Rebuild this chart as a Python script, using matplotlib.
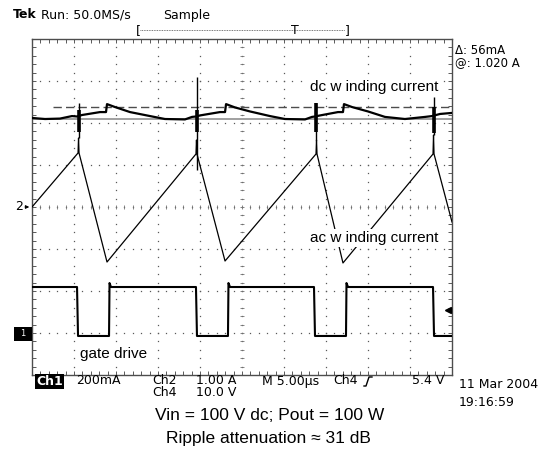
import numpy as np
import matplotlib
matplotlib.use('Agg')
import matplotlib.pyplot as plt
from matplotlib.lines import Line2D
from matplotlib.patches import Rectangle

W, H = 546, 459

# channel settings shown on the scope
ch1_scale, ch1_ground = 0.2, -3.0    # A/div, ground in div
ch2_scale, ch2_ground = 1.0, 0.0     # A/div
ch4_scale, ch4_ground = 10.0, -3.0   # V/div
trig_level = 5.4                     # V, ch4
cursor_at = 1.020                    # A
cursor_delta = 0.056                 # A

# Ch1: dc winding current (time in us, current in A)
dc_t = [0.0, 1.55, 3.33, 4.76, 5.36, 5.95, 8.10, 8.81, 8.93, 9.88, 11.67, 14.05, 15.83,
        18.21, 19.05, 19.52, 20.0, 22.38, 22.98, 23.10, 24.17, 25.95, 28.33, 30.12, 32.5,
        33.33, 33.69, 34.29, 36.43, 37.02, 37.14, 38.10, 40.0, 42.02, 44.4, 46.79, 47.62,
        48.57, 50.0]
dc_i = [1.024, 1.019, 1.021, 1.033, 1.031, 1.038, 1.052, 1.052, 1.090, 1.076, 1.052, 1.033,
        1.019, 1.017, 1.029, 1.031, 1.036, 1.052, 1.052, 1.090, 1.074, 1.055, 1.033, 1.019,
        1.017, 1.029, 1.031, 1.036, 1.052, 1.052, 1.090, 1.076, 1.055, 1.029, 1.019, 1.029,
        1.033, 1.043, 1.048]

# switching spikes on the dc trace
spike_t = [5.6, 19.64, 33.81, 47.86]
spike_top = [1.095, 1.219, 1.095, 1.124]
spike_bot = [0.929, 0.776, 0.919, 0.943]
spike_core_top = [1.062, 1.062, 1.095, 1.076]
spike_core_bot = [0.957, 0.957, 0.957, 0.952]

# Ch2: ac winding current
ac_t = [0.0, 5.48, 5.54, 5.6, 8.93, 19.52, 19.58, 19.64, 22.98, 33.81, 33.87, 33.93,
        37.02, 47.74, 47.8, 47.86, 50.0]
ac_i = [0.0, 1.286, 1.643, 1.286, -1.310, 1.262, 1.595, 1.262, -1.286, 1.262, 1.595, 1.262,
        -1.333, 1.262, 1.714, 1.262, -0.357]

# Ch4: gate drive
gate_t = [0.0, 5.36, 5.48, 9.17, 9.23, 9.40, 19.52, 19.64, 23.33, 23.39, 23.57, 33.57,
          33.69, 37.38, 37.44, 37.62, 47.74, 47.86, 50.0]
gate_v = [10.95, 10.95, -0.71, -0.71, 11.9, 10.95, 10.95, -0.71, -0.71, 11.9, 10.95, 10.95,
          -0.71, -0.71, 11.9, 10.95, 10.95, -0.71, -0.71]


def to_div(vals, scale, ground):
    return np.asarray(vals) / scale + ground


def fx(px):
    return px / W


def fy(py):
    return 1 - py / H


fig = plt.figure(figsize=(W / 100, H / 100), dpi=100)
ax = fig.add_axes([fx(32), fy(375), 420 / W, 336 / H])
ax.set_xlim(0, 50)
ax.set_ylim(-4, 4)

# graticule
grid_c = '0.35'
ys = np.arange(-4, 4.01, 0.2)
xs = np.arange(0, 50.01, 1.0)
for k in range(1, 10):
    ax.plot(np.full(len(ys), k * 5.0), ys, ls='none', marker='s', ms=0.9, mec='none', mfc=grid_c)
for k in range(-3, 4):
    ax.plot(xs, np.full(len(xs), float(k)), ls='none', marker='s', ms=0.9, mec='none', mfc=grid_c)
ax.plot(xs, np.zeros(len(xs)), ls='none', marker='|', ms=3, mew=0.6, color='0.45')
ax.plot(np.full(len(ys), 25.0), ys, ls='none', marker='_', ms=3, mew=0.6, color='0.45')

ax.set_xticks([])
ax.set_yticks([])
ax.set_xticks(xs, minor=True)
ax.set_yticks(ys, minor=True)
ax.tick_params(which='minor', direction='in', length=3, width=0.7, color=grid_c,
               top=True, right=True, labelbottom=False, labelleft=False)
for s in ax.spines.values():
    s.set_color('0.3')
    s.set_linewidth(1.0)

# cursors
ax.axhline(to_div(cursor_at, ch1_scale, ch1_ground), color='0.6', lw=1.3, zorder=2)
ax.plot([2.5, 50], [to_div(cursor_at + cursor_delta, ch1_scale, ch1_ground)] * 2,
        color='0.3', lw=1.0, dashes=(6, 3), zorder=2)

# traces
ax.plot(ac_t, to_div(ac_i, ch2_scale, ch2_ground), color='black', lw=0.9, zorder=3)
ax.plot(gate_t, to_div(gate_v, ch4_scale, ch4_ground), color='black', lw=1.5, zorder=3)
ax.plot(dc_t, to_div(dc_i, ch1_scale, ch1_ground), color='black', lw=1.6, zorder=4)
ax.vlines(spike_t, to_div(spike_bot, ch1_scale, ch1_ground),
          to_div(spike_top, ch1_scale, ch1_ground), color='black', lw=1.0, zorder=4)
ax.vlines(spike_t, to_div(spike_core_bot, ch1_scale, ch1_ground),
          to_div(spike_core_top, ch1_scale, ch1_ground), color='black', lw=2.6, zorder=4)

# trigger level marker
ax.plot([49.5], [to_div(trig_level, ch4_scale, ch4_ground)], marker='<', ms=5,
        color='black', clip_on=False, zorder=5)

# channel markers on the left
ax.annotate('', xy=(0, ch2_ground), xytext=(-7, 0), textcoords='offset points',
            arrowprops=dict(arrowstyle='-|>', lw=0.7, color='black', mutation_scale=5),
            annotation_clip=False)
scope = dict(family='DejaVu Sans', fontsize=9, color='black')
fig.text(fx(19.5), fy(207), '2', ha='center', va='center', **scope)
fig.patches.append(Rectangle((fx(14), fy(341)), 18 / W, 14 / H, transform=fig.transFigure,
                             facecolor='black', edgecolor='none'))
fig.text(fx(23), fy(334), '1', ha='center', va='center', family='DejaVu Sans',
         fontsize=6, color='white')

# header
fig.text(fx(13), fy(15), 'Tek', ha='left', va='center', family='DejaVu Sans',
         fontsize=9, weight='bold')
fig.text(fx(41), fy(15), 'Run: 50.0MS/s', ha='left', va='center', **scope)
fig.text(fx(163), fy(15), 'Sample', ha='left', va='center', **scope)
fig.add_artist(Line2D([fx(140), fx(345)], [fy(30), fy(30)], transform=fig.transFigure,
                      color='0.3', lw=0.6, ls=(0, (1, 1))))
fig.text(fx(138), fy(31), '[', ha='center', va='center', **scope)
fig.text(fx(347), fy(31), ']', ha='center', va='center', **scope)
fig.text(fx(295), fy(30), 'T', ha='center', va='center', **scope)

# cursor readout
small = dict(family='DejaVu Sans', fontsize=8.5, color='black')
fig.text(fx(455), fy(50), '\u0394: 56mA', ha='left', va='center', **small)
fig.text(fx(455), fy(62.5), '@: 1.020 A', ha='left', va='center', **small)

# trace labels
lab = dict(family=['Liberation Sans', 'DejaVu Sans'], fontsize=11, ha='left', va='center',
           bbox=dict(facecolor='white', edgecolor='none', pad=1.5), zorder=6)
fig.text(fx(310), fy(87), 'dc w inding current', **lab)
fig.text(fx(310), fy(238), 'ac w inding current', **lab)
fig.text(fx(80), fy(354), 'gate drive', **lab)

# bottom status line
fig.text(fx(36), fy(381.5), 'Ch1', ha='left', va='center', family='DejaVu Sans', fontsize=9,
         weight='bold', color='white',
         bbox=dict(facecolor='black', edgecolor='none', pad=0.8))
fig.text(fx(76), fy(381), '200mA', ha='left', va='center', **scope)
fig.text(fx(152), fy(381), 'Ch2', ha='left', va='center', **scope)
fig.text(fx(196), fy(381), '1.00 A', ha='left', va='center', **scope)
fig.text(fx(152), fy(393), 'Ch4', ha='left', va='center', **scope)
fig.text(fx(196), fy(393), '10.0 V', ha='left', va='center', **scope)
fig.text(fx(262), fy(381), 'M 5.00\u00b5s', ha='left', va='center', **scope)
fig.text(fx(333), fy(381), 'Ch4', ha='left', va='center', **scope)
fig.add_artist(Line2D([fx(364), fx(366), fx(369), fx(372)],
                      [fy(386), fy(386), fy(377), fy(377)],
                      transform=fig.transFigure, color='black', lw=1.0))
fig.text(fx(444), fy(381), '5.4 V', ha='right', va='center', **scope)
fig.text(fx(459), fy(385), '11 Mar 2004', ha='left', va='center', **scope)
fig.text(fx(459), fy(402), '19:16:59', ha='left', va='center', **scope)

# caption
cap = dict(family=['Liberation Sans', 'DejaVu Sans'], fontsize=12.5, ha='center', va='center')
fig.text(fx(270), fy(415), 'Vin = 100 V dc; Pout = 100 W', **cap)
fig.text(fx(268), fy(439), 'Ripple attenuation \u2248 31 dB', **cap)

fig.savefig('out.png', dpi=100)
